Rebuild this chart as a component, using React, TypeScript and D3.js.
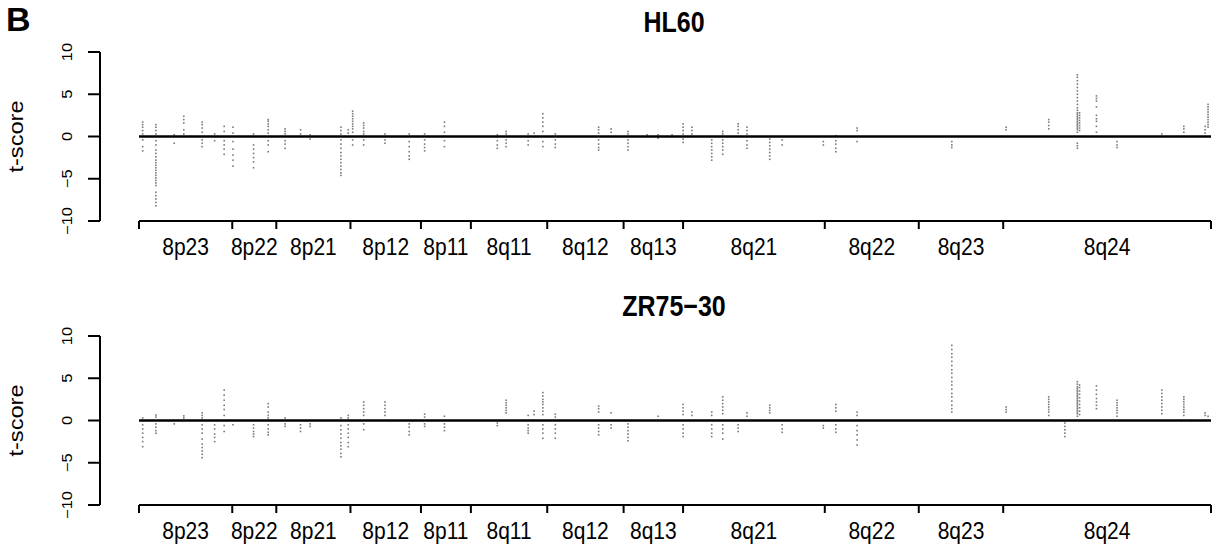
import * as d3 from 'd3';

// chromosome 8 band edges (Mb) and labels
const bandEdges = [0, 12.7, 18.7, 28.8, 38.4, 45.2, 55.6, 66.0, 74.1, 93.4, 106.2, 117.7, 146];
const bandLabels = ['8p23', '8p22', '8p21', '8p12', '8p11', '8q11', '8q12', '8q13', '8q21', '8q22', '8q23', '8q24'];
const yTicks = [-10, -5, 0, 5, 10];

// probe positions (Mb), shared by both cell lines
const loci = [
  0.5, 2.3, 4.8, 6.1, 8.6, 10.3, 11.6, 12.8, 15.6, 17.6, 19.9, 22.0, 23.3, 27.5, 28.5, 29.1,
  30.6, 33.5, 36.8, 38.9, 41.6, 48.8, 50.0, 53.0, 53.8, 55.0, 56.7, 62.6, 64.3, 66.6, 69.2,
  70.7, 72.6, 74.1, 75.3, 78.0, 79.5, 81.6, 82.8, 85.9, 87.6, 93.2, 94.9, 97.8, 110.7, 118.1,
  123.9, 126.1, 127.8, 128.1, 130.4, 133.2, 139.3, 142.3, 145.2, 145.6,
];

const hl60Scores = [
  [1.7, 1.4, 1.1, 0.7, 0.3, -0.4, -1.2, -1.7],
  [1.4, 1.1, 0.7, 0.3, -0.5, -1.0, -1.6, -2.0, -2.4, -2.8, -3.1, -3.4, -3.7, -4.0, -4.3, -4.6, -4.9, -5.2, -5.5, -5.8, -6.6, -7.0, -7.4, -7.8, -8.2],
  [0.2, -0.8],
  [2.4, 2.0, 1.6, 0.8, 0.3],
  [1.7, 1.4, 1.0, 0.5, -0.4, -0.8, -1.2],
  [0.3, -0.5],
  [1.2, 0.6, -0.5, -1.0, -1.5, -2.1],
  [1.1, 0.4, -0.6, -1.5, -2.2, -2.8, -3.5],
  [0.3, -1.0, -1.5, -2.0, -2.5, -3.0, -3.7],
  [2.0, 1.8, 1.5, 1.2, 0.8, 0.4, -0.5, -1.0, -1.8],
  [0.9, 0.6, 0.3, -0.5, -0.9, -1.4],
  [0.8, 0.3],
  [0.2, -0.3],
  [1.1, 0.7, 0.3, -0.4, -0.9, -1.4, -1.9, -2.3, -2.7, -3.1, -3.5, -3.9, -4.3, -4.6],
  [0.8, 0.4],
  [3.0, 2.7, 2.4, 2.1, 1.8, 1.5, 1.2, 0.9, 0.5, -0.4, -1.0],
  [1.6, 1.3, 1.0, 0.6, 0.3, -0.4, -1.0],
  [0.3, -0.4, -0.8],
  [0.3, -0.6, -1.2, -1.8, -2.3, -2.7],
  [0.3, -0.4, -0.9, -1.3, -1.7],
  [1.7, 1.2, 0.5, -0.5, -1.2],
  [0.2, -0.5, -1.0, -1.4],
  [0.6, 0.3, -0.4, -0.8, -1.2],
  [0.3, -0.5, -1.0],
  [0.4],
  [2.7, 2.2, 1.7, 1.2, 0.6, -0.6, -1.2],
  [0.3, -0.4, -0.9, -1.3],
  [1.1, 0.8, 0.4, -0.4, -0.9, -1.3, -1.6],
  [0.9, 0.5],
  [0.6, 0.3, -0.4, -0.8, -1.2, -1.6],
  [0.2],
  [0.2, -0.2],
  [0.2],
  [1.5, 1.1, 0.7, 0.3, -0.3, -0.7],
  [1.1, 0.7, 0.3],
  [-0.4, -0.8, -1.2, -1.6, -2.0, -2.4, -2.8],
  [0.6, 0.3, -0.4, -0.8, -1.2, -1.6, -2.1],
  [1.5, 1.2, 0.8, 0.4],
  [1.1, 0.7, 0.3, -0.5, -1.0, -1.4],
  [-0.3, -0.7, -1.1, -1.5, -1.9, -2.3, -2.7],
  [-0.4, -1.0],
  [-0.6, -1.0],
  [0.1, -0.5, -0.9, -1.4, -1.8],
  [1.0, 0.7, -0.6],
  [-0.6, -1.0, -1.3],
  [1.1, 0.8],
  [2.0, 1.7, 1.3, 0.9],
  [],
  [7.3, 7.0, 6.6, 6.2, 5.8, 5.4, 5.0, 4.6, 4.2, 3.8, 3.4, 3.1, 2.8, 2.6, 2.4, 2.2, 2.0, 1.8, 1.6, 1.4, 1.2, 1.0, 0.8, 0.5, -0.8, -1.1, -1.4],
  [2.8, 2.5, 2.2, 1.9, 1.6, 1.3, 1.0, 0.7],
  [4.8, 4.5, 4.2, 3.5, 2.5, 2.1, 1.8, 1.2, 0.5],
  [-0.6, -1.0, -1.3],
  [0.3],
  [1.2, 0.9, 0.5],
  [1.2, 0.8, 0.4],
  [3.8, 3.5, 3.2, 2.9, 2.6, 2.3, 2.0, 1.7, 1.4, 1.1],
];

const zr7530Scores = [
  [0.3, -0.5, -1.0, -1.5, -2.0, -2.5, -3.1],
  [0.65, 0.4, -0.4, -0.8, -1.2, -1.5],
  [-0.4],
  [0.55, 0.3],
  [0.9, 0.6, 0.3, -0.5, -1.0, -1.5, -2.2, -2.8, -3.2, -3.6, -4.0, -4.4],
  [-0.5, -1.0, -1.6, -2.0, -2.5],
  [3.6, 3.0, 2.4, 1.8, 1.3, 0.6, -0.6, -1.3],
  [-0.5],
  [-0.5, -0.9, -1.3, -1.6, -1.9],
  [2.0, 1.6, 1.0, 0.6, 0.3, -0.5, -1.0, -1.4, -1.7],
  [0.3, -0.4, -0.7],
  [-0.5, -0.9, -1.3],
  [-0.4, -0.7],
  [0.3, -0.6, -1.1, -1.6, -2.1, -2.6, -3.0, -3.4, -3.9, -4.3],
  [0.6, 0.3, -0.5, -1.0, -1.5, -2.0, -2.6, -3.1],
  [],
  [2.2, 1.8, 1.4, 1.0, 0.6, -0.4, -1.1],
  [2.2, 1.8, 1.4, 1.0, 0.6],
  [-0.4, -0.8, -1.3, -1.7],
  [0.75, 0.4, -0.4, -0.7],
  [0.5, -0.4, -0.8, -1.2],
  [-0.3, -0.6],
  [2.4, 2.1, 1.8, 1.5, 1.2, 0.9],
  [0.6, -0.5, -0.9, -1.2, -1.5],
  [1.1, 0.7],
  [3.3, 2.9, 2.5, 2.2, 1.9, 1.5, 1.1, 0.7, -0.5, -1.0, -1.5, -2.1],
  [0.75, 0.4, -0.5, -1.0, -1.5, -2.1],
  [1.7, 1.4, 1.0, -0.5, -0.9, -1.3, -1.7],
  [0.9, -0.5, -0.9],
  [-0.4, -0.8, -1.2, -1.6, -2.0, -2.4],
  [],
  [0.5],
  [],
  [1.9, 1.5, 1.1, 0.7, -0.5, -1.0, -1.5, -1.9],
  [1.0, 0.6],
  [1.0, 0.6, -0.5, -1.0, -1.5, -1.9],
  [2.8, 2.4, 2.0, 1.6, 1.2, 0.8, -0.5, -1.0, -1.5, -2.2],
  [-0.5, -0.9, -1.3],
  [0.9, 0.5],
  [1.8, 1.5, 1.2, 0.9],
  [-0.5, -1.0, -1.4],
  [-0.6, -0.9],
  [1.9, 1.5, 1.1, -0.5, -1.0, -1.4],
  [1.0, 0.6, -0.6, -1.2, -1.7, -2.3, -2.9],
  [8.9, 8.4, 7.9, 7.5, 7.0, 6.5, 6.0, 5.6, 5.1, 4.6, 4.2, 3.7, 3.2, 2.8, 2.3, 1.8, 1.4, 1.0],
  [1.6, 1.3, 1.0],
  [2.8, 2.5, 2.2, 1.9, 1.6, 1.3, 1.0, 0.6],
  [-0.3, -0.7, -1.1, -1.5, -1.9],
  [4.6, 4.3, 4.0, 3.8, 3.6, 3.4, 3.2, 3.0, 2.8, 2.6, 2.4, 2.2, 2.0, 1.8, 1.6, 1.4, 1.2, 1.0, 0.8, 0.5],
  [4.2, 3.9, 3.5, 3.1, 2.7, 2.3, 1.9, 1.5, 1.1, 0.7],
  [4.1, 3.6, 3.1, 2.6, 2.2, 1.8, 1.4],
  [2.4, 2.1, 1.8, 1.5, 1.2, 0.9, 0.5],
  [3.6, 3.2, 2.8, 2.4, 2.0, 1.6, 1.2, 0.8],
  [2.8, 2.5, 2.2, 1.9, 1.6, 1.3, 1.0, 0.6],
  [0.9, 0.6],
  [0.5],
];

const FONT = '"Liberation Sans", Arial, Helvetica, sans-serif';
const STRETCH = 1.18;

const x = d3.scaleLinear().domain([0, 146]).range([139, 1211]);

const Panel = ({ title, scores, top }: { title: string; scores: number[][]; top: number }) => {
  const y = d3.scaleLinear().domain([-10, 10]).range([top + 169, top]);
  const axisY = y(-10);
  const axisX = 100;

  const dots = [];
  scores.forEach((vals, i) => {
    vals.forEach((v, j) => {
      dots.push(
        <rect key={`${i}-${j}`} x={x(loci[i]) - 0.8} y={y(v) - 0.8} width={1.6} height={1.6} fill="#7a7a7a" />
      );
    });
  });

  return (
    <g fontFamily={FONT}>
      <text
        transform={`translate(674, ${top - 20}) scale(1, ${STRETCH})`}
        textAnchor="middle"
        fontWeight="bold"
        fontSize={25}
      >
        {title}
      </text>

      {/* y axis */}
      <line x1={axisX} x2={axisX} y1={y(10)} y2={y(-10)} stroke="black" strokeWidth={2} />
      {yTicks.map((t) => (
        <g key={t}>
          <line x1={axisX - 12} x2={axisX} y1={y(t)} y2={y(t)} stroke="black" strokeWidth={2} />
          <text
            transform={`translate(72, ${y(t)}) rotate(-90) scale(${STRETCH}, 1)`}
            textAnchor="middle"
            fontSize={14}
          >
            {t < 0 ? `\u2212${-t}` : t}
          </text>
        </g>
      ))}
      <text
        transform={`translate(23, ${y(0)}) rotate(-90) scale(${STRETCH}, 1)`}
        textAnchor="middle"
        fontSize={20}
      >
        t-score
      </text>

      {/* x axis */}
      <line x1={x(0)} x2={x(146)} y1={axisY} y2={axisY} stroke="black" strokeWidth={2} />
      {bandEdges.map((e) => (
        <line key={e} x1={x(e)} x2={x(e)} y1={axisY} y2={axisY + 8} stroke="black" strokeWidth={2} />
      ))}
      {bandLabels.map((l, i) => (
        <text
          key={l}
          transform={`translate(${(x(bandEdges[i]) + x(bandEdges[i + 1])) / 2}, ${axisY + 34}) scale(1, ${STRETCH})`}
          textAnchor="middle"
          fontSize={21}
        >
          {l}
        </text>
      ))}

      {dots}
      <line x1={x(0)} x2={x(146)} y1={y(0)} y2={y(0)} stroke="black" strokeWidth={2.5} />
    </g>
  );
};

export default function App() {
  return (
    <svg width={1212} height={544} style={{ position: 'absolute', left: 0, top: 0, background: 'white' }}>
      <text x={6} y={31} fontFamily={FONT} fontWeight="bold" fontSize={34}>
        B
      </text>
      <Panel title="HL60" scores={hl60Scores} top={52} />
      <Panel title={'ZR75\u221230'} scores={zr7530Scores} top={336} />
    </svg>
  );
}
